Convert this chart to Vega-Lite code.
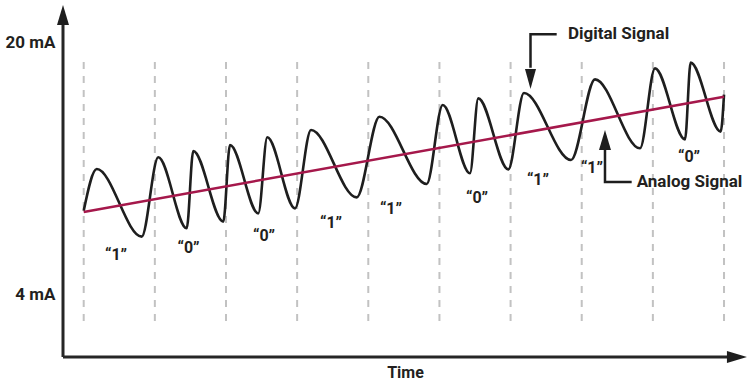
{
  "$schema": "https://vega.github.io/schema/vega-lite/v6.json",
  "width": 684,
  "height": 352,
  "autosize": {"type": "none"},
  "padding": {"left": 63, "top": 5, "right": 4, "bottom": 26},
  "background": "white",
  "config": {"view": {"stroke": null}},
  "datasets": {
    "dashes": [
      {"t": 0, "mA": 2.29, "mA2": 18.77},
      {"t": 1, "mA": 2.29, "mA2": 18.77},
      {"t": 2, "mA": 2.29, "mA2": 18.77},
      {"t": 3, "mA": 2.29, "mA2": 18.77},
      {"t": 4, "mA": 2.29, "mA2": 18.77},
      {"t": 5, "mA": 2.29, "mA2": 18.77},
      {"t": 6, "mA": 2.29, "mA2": 18.77},
      {"t": 7, "mA": 2.29, "mA2": 18.77},
      {"t": 8, "mA": 2.29, "mA2": 18.77},
      {"t": 9, "mA": 2.29, "mA2": 18.77}
    ],
    "digital": [
      {"t": 0.0, "mA": 9.3},
      {"t": 0.183, "mA": 11.96},
      {"t": 0.815, "mA": 7.66},
      {"t": 1.048, "mA": 12.71},
      {"t": 1.448, "mA": 8.19},
      {"t": 1.54, "mA": 13.11},
      {"t": 1.962, "mA": 8.61},
      {"t": 2.056, "mA": 13.49},
      {"t": 2.454, "mA": 9.14},
      {"t": 2.58, "mA": 13.98},
      {"t": 2.97, "mA": 9.46},
      {"t": 3.195, "mA": 14.45},
      {"t": 3.837, "mA": 10.16},
      {"t": 4.157, "mA": 15.29},
      {"t": 4.821, "mA": 11.01},
      {"t": 5.046, "mA": 16.04},
      {"t": 5.429, "mA": 11.69},
      {"t": 5.546, "mA": 16.46},
      {"t": 5.968, "mA": 11.94},
      {"t": 6.188, "mA": 16.8},
      {"t": 6.849, "mA": 12.54},
      {"t": 7.187, "mA": 17.67},
      {"t": 7.819, "mA": 13.28},
      {"t": 8.03, "mA": 18.37},
      {"t": 8.452, "mA": 13.85},
      {"t": 8.531, "mA": 18.73},
      {"t": 8.953, "mA": 14.34},
      {"t": 9.0, "mA": 16.7}
    ],
    "analog": [
      {"t": 0, "mA": 9.23},
      {"t": 9, "mA": 16.56}
    ],
    "axes": [
      {"t": -0.291, "mA": 0, "t2": 9.1, "mA2": 0},
      {"t": -0.291, "mA": 0, "t2": -0.291, "mA2": 21.4}
    ],
    "arrowUp": [
      {"t": -0.291, "mA": 21.76},
      {"t": 7.327, "mA": 13.81}
    ],
    "arrowRight": [
      {"t": 9.182, "mA": 0}
    ],
    "arrowDown": [
      {"t": 6.28, "mA": 17.69}
    ],
    "callouts": [
      {"arrow": "digital", "i": 0, "t": 6.648, "mA": 20.54},
      {"arrow": "digital", "i": 1, "t": 6.28, "mA": 20.54},
      {"arrow": "digital", "i": 2, "t": 6.28, "mA": 18.4},
      {"arrow": "analog", "i": 0, "t": 7.327, "mA": 13.3},
      {"arrow": "analog", "i": 1, "t": 7.327, "mA": 11.14},
      {"arrow": "analog", "i": 2, "t": 7.702, "mA": 11.14}
    ],
    "calloutText": [
      {"t": 6.807, "mA": 20.55, "label": "Digital Signal"},
      {"t": 7.772, "mA": 11.14, "label": "Analog Signal"}
    ],
    "bits": [
      {"t": 0.454, "mA": 6.49, "label": "“1”"},
      {"t": 1.473, "mA": 6.94, "label": "“0”"},
      {"t": 2.534, "mA": 7.7, "label": "“0”"},
      {"t": 3.476, "mA": 8.53, "label": "“1”"},
      {"t": 4.319, "mA": 9.42, "label": "“1”"},
      {"t": 5.528, "mA": 10.12, "label": "“0”"},
      {"t": 6.385, "mA": 11.26, "label": "“1”"},
      {"t": 7.144, "mA": 12.03, "label": "“1”"},
      {"t": 8.508, "mA": 12.73, "label": "“0”"}
    ]
  },
  "encoding": {
    "x": {
      "field": "t",
      "type": "quantitative",
      "scale": {"domain": [-0.291, 9.323], "nice": false, "zero": false},
      "axis": {
        "domain": false, "ticks": false, "labels": false, "grid": false,
        "title": "Time", "titleFont": "Roboto", "titleFontSize": 16,
        "titleFontWeight": "bold", "titleColor": "#231f20", "titlePadding": 7
      }
    },
    "y": {
      "field": "mA",
      "type": "quantitative",
      "scale": {"domain": [0, 22.4], "nice": false, "zero": false},
      "axis": {
        "domain": false, "ticks": false, "tickSize": 0, "grid": false,
        "values": [4, 20], "labelExpr": "datum.value + ' mA'", "title": null,
        "labelFont": "Roboto", "labelFontSize": 17, "labelFontWeight": "bold",
        "labelColor": "#231f20", "labelPadding": 8
      }
    }
  },
  "layer": [
    {
      "data": {"name": "dashes"},
      "mark": {"type": "rule", "color": "#c2c2c2", "strokeWidth": 2, "strokeDash": [7, 7]},
      "encoding": {"y2": {"field": "mA2"}}
    },
    {
      "data": {"name": "digital"},
      "mark": {"type": "line", "interpolate": "monotone", "color": "#1e1e1e", "strokeWidth": 2.6}
    },
    {
      "data": {"name": "analog"},
      "mark": {"type": "line", "color": "#a5184b", "strokeWidth": 2.5}
    },
    {
      "data": {"name": "axes"},
      "mark": {"type": "rule", "color": "#262626", "strokeWidth": 3},
      "encoding": {"x2": {"field": "t2"}, "y2": {"field": "mA2"}}
    },
    {
      "data": {"name": "callouts"},
      "mark": {"type": "line", "color": "#1e1e1e", "strokeWidth": 2.5},
      "encoding": {"detail": {"field": "arrow"}, "order": {"field": "i"}}
    },
    {
      "data": {"name": "arrowUp"},
      "mark": {"type": "point", "shape": "M0,-1L0.6,1L-0.6,1Z", "size": 400, "filled": true, "color": "#1e1e1e", "opacity": 1}
    },
    {
      "data": {"name": "arrowRight"},
      "mark": {"type": "point", "shape": "M1,0L-1,-0.6L-1,0.6Z", "size": 400, "filled": true, "color": "#1e1e1e", "opacity": 1}
    },
    {
      "data": {"name": "arrowDown"},
      "mark": {"type": "point", "shape": "M0,1L-0.55,-1L0.55,-1Z", "size": 400, "filled": true, "color": "#1e1e1e", "opacity": 1}
    },
    {
      "data": {"name": "calloutText"},
      "mark": {"type": "text", "align": "left", "baseline": "middle", "font": "Roboto", "fontSize": 17, "fontWeight": "bold", "color": "#231f20"},
      "encoding": {"text": {"field": "label"}}
    },
    {
      "data": {"name": "bits"},
      "mark": {"type": "text", "align": "center", "baseline": "middle", "font": "Roboto", "fontSize": 16, "fontWeight": "bold", "color": "#231f20"},
      "encoding": {"text": {"field": "label"}}
    }
  ]
}
